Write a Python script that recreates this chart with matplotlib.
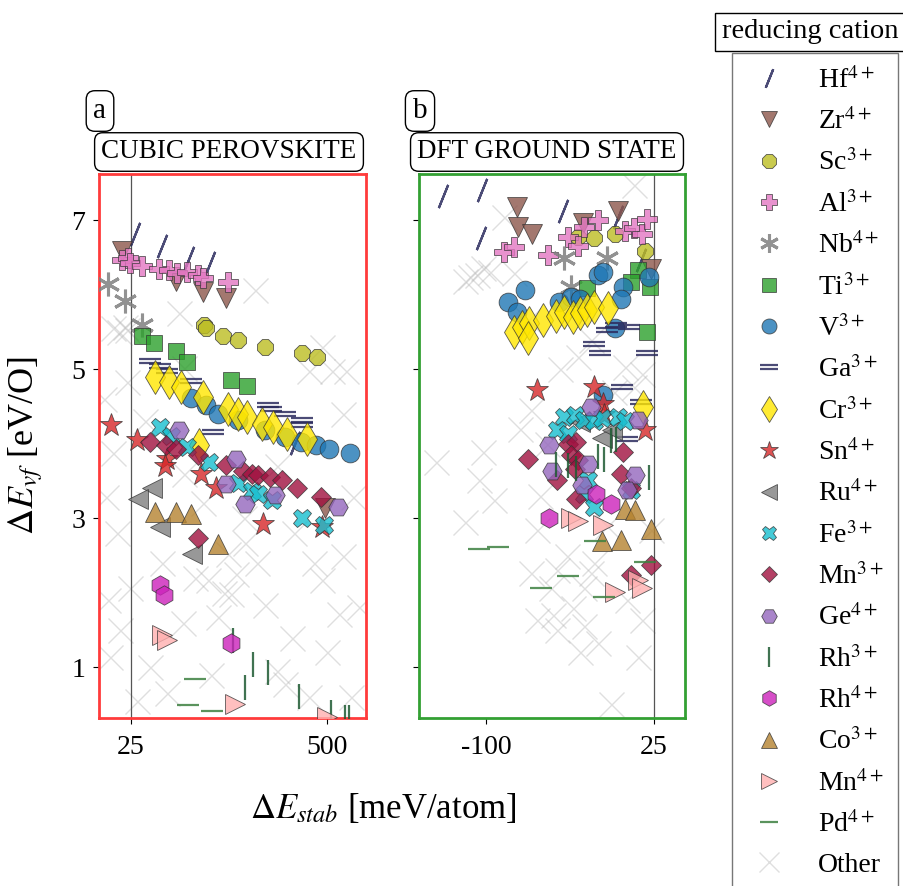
#!/usr/bin/env python3
"""Vacancy formation energy vs. stability, cubic perovskite vs. DFT ground state."""

import matplotlib

matplotlib.use("Agg")
import matplotlib.pyplot as plt
from matplotlib.lines import Line2D
from matplotlib.path import Path

plt.rcParams["font.family"] = ["Liberation Serif", "DejaVu Serif"]
plt.rcParams["mathtext.fontset"] = "stix"

# (dE_stab [meV/atom], dE_vf [eV/O])
# panel a = cubic perovskite, panel b = DFT ground state
HF_A = [(35, 6.82), (100, 6.66), (166, 6.49), (216, 6.43), (424, 4.01)]
HF_B = [(-132, 7.33), (-103, 7.40), (-104, 6.76), (-43, 7.13), (-2, 7.04), (15, 6.46)]
ZR_A = [(2, 6.59), (133, 6.19), (199, 6.04), (256, 5.95), (497, 3.14)]
ZR_B = [(-77, 7.18), (-76, 6.91), (-66, 6.82), (-28, 6.96), (-2, 7.13), (23, 6.35)]
SC_A = [(203, 5.59), (207, 5.55), (248, 5.45), (285, 5.39), (350, 5.30), (441, 5.22), (478, 5.17)]
SC_B = [(-32, 6.78), (-20, 6.76), (-4, 6.82), (18, 6.59)]
AL_A = [(2, 6.46), (18, 6.49), (22, 6.42), (51, 6.39), (92, 6.35), (117, 6.33),
        (137, 6.29), (162, 6.31), (187, 6.26), (199, 6.22), (260, 6.17)]
AL_B = [(-87, 6.57), (-79, 6.64), (-54, 6.53), (-39, 6.78), (-32, 6.66), (-27, 6.91),
        (-17, 7.00), (3, 6.86), (10, 6.89), (16, 6.82), (20, 7.02)]
NB_A = [(-31, 6.15), (10, 5.92), (51, 5.59)]
NB_B = [(-42, 6.49), (-10, 6.49), (-37, 6.11)]
TI_A = [(51, 5.44), (80, 5.35), (133, 5.25), (162, 5.10), (268, 4.85), (306, 4.78)]
TI_B = [(13, 6.33), (-25, 6.09), (8, 6.17), (22, 6.11), (20, 5.50)]
V_A = [(170, 4.61), (207, 4.52), (236, 4.40), (285, 4.32), (350, 4.18), (400, 4.09),
       (437, 4.03), (474, 3.98), (507, 3.93), (556, 3.87)]
V_B = [(-71, 6.06), (-84, 5.90), (-77, 5.77), (-46, 5.90), (-37, 5.97), (-30, 5.94),
       (-17, 6.26), (-13, 6.31), (2, 6.11), (0, 5.94), (21, 6.24), (-4, 5.55), (-13, 4.66)]
GA_A = [(70, 5.11), (96, 5.04), (113, 4.98), (170, 4.84), (359, 4.52), (365, 4.47),
        (400, 4.40), (441, 4.32), (441, 4.25), (224, 4.16)]
GA_B = [(-3, 5.59), (6, 5.57), (-10, 5.52), (-20, 5.34), (-15, 5.22), (20, 5.22),
        (1, 4.76), (15, 4.56), (5, 4.07)]
CR_A = [(84, 4.90), (117, 4.83), (146, 4.76), (199, 4.63), (260, 4.47), (285, 4.40),
        (306, 4.36), (342, 4.27), (371, 4.23), (404, 4.13), (453, 4.07), (190, 3.98)]
CR_B = [(-79, 5.50), (-73, 5.57), (-68, 5.62), (-69, 5.42), (-58, 5.66), (-48, 5.72),
        (-42, 5.77), (-35, 5.70), (-30, 5.75), (-25, 5.79), (-20, 5.84), (-9, 5.82), (17, 4.49)]
SN_A = [(-23, 4.25), (39, 4.05), (113, 3.80), (108, 3.70), (195, 3.60), (232, 3.41),
        (346, 2.93), (490, 2.88)]
SN_B = [(-62, 4.72), (-20, 4.76), (-13, 4.54), (-12, 4.38), (18, 4.18)]
RU_A = [(76, 3.41), (43, 3.26), (96, 2.88), (174, 2.52)]
RU_B = [(-14, 4.08), (-6, 4.18), (-30, 4.29)]
FE_A = [(96, 4.23), (121, 4.11), (162, 3.96), (215, 3.76), (285, 3.47), (318, 3.36),
        (334, 3.33), (367, 3.24), (441, 3.01), (494, 2.91)]
FE_B = [(-42, 4.36), (-34, 4.38), (-27, 4.32), (-20, 4.30), (-14, 4.34), (-2, 4.36),
        (3, 4.30), (-47, 4.18), (-39, 4.13), (-24, 3.51), (-27, 3.33), (-20, 3.15), (8, 3.38)]
MN3_A = [(72, 4.03), (109, 3.98), (133, 3.93), (187, 3.85), (256, 3.71), (297, 3.64),
         (318, 3.60), (334, 3.58), (363, 3.56), (392, 3.51), (429, 3.41), (486, 3.28), (187, 2.73)]
MN3_B = [(-69, 3.79), (-39, 4.00), (-33, 4.03), (-37, 3.85), (-32, 3.78), (-34, 3.66),
         (-47, 3.51), (2, 3.89), (0, 3.60), (-33, 3.26), (8, 2.24), (23, 2.37), (8, 3.41)]
GE_A = [(141, 4.18), (281, 3.80), (256, 3.46), (301, 3.19), (375, 3.31), (527, 3.15)]
GE_B = [(-22, 4.49), (13, 4.32), (-53, 3.98), (-51, 3.64), (-24, 3.73), (-29, 3.44),
        (11, 3.58), (5, 3.38)]
RH3_A = [(273, 1.37), (322, 1.05), (359, 0.94), (303, 0.73), (433, 0.62), (512, 0.40),
         (545, 0.33), (554, 0.33)]
RH3_B = [(-48, 3.73), (-39, 3.71), (-33, 3.68), (-17, 3.83), (-12, 3.80), (-7, 4.05),
         (-3, 4.07), (21, 3.56)]
RH4_A = [(96, 2.10), (104, 1.97), (268, 1.32)]
RH4_B = [(-53, 3.00), (-18, 3.33), (-7, 3.19)]
CO_A = [(84, 3.08), (133, 3.08), (170, 3.06), (236, 2.66)]
CO_B = [(3, 3.13), (11, 3.11), (23, 2.86), (-14, 2.69), (0, 2.71)]
MN4_A = [(100, 1.43), (113, 1.37), (277, 0.51), (502, 0.33)]
MN4_B = [(-37, 3.00), (-32, 2.96), (-13, 2.91), (-4, 2.01), (13, 2.17), (16, 2.06)]
PD_A = [(181, 0.85), (164, 0.50), (222, 0.42)]
PD_B = [(-105, 2.59), (-91, 2.62), (-39, 2.22), (-59, 2.06), (-19, 2.69), (-12, 1.94), (18, 2.42)]
OTHER_A = [(326, 6.06), (141, 5.75), (-20, 5.55), (-5, 5.50), (10, 5.57), (15, 5.52),
           (457, 4.97), (514, 4.97), (547, 4.97), (14, 4.83), (153, 5.02), (490, 5.30),
           (-19, 3.87), (-35, 3.28), (154, 3.60), (564, 3.28), (260, 2.52), (301, 2.67),
           (23, 2.07), (211, 2.17), (268, 1.99), (236, 1.67), (416, 1.40), (531, 1.72),
           (580, 1.81), (-2, 1.50), (-27, 1.14), (113, 0.65), (400, 0.78), (457, 0.60),
           (350, 1.84), (490, 2.17), (60, 4.3), (-40, 4.6), (180, 2.2), (330, 2.4),
           (420, 2.8), (470, 2.4), (540, 2.5), (100, 2.4), (-10, 2.8), (380, 0.95),
           (500, 1.2), (70, 1.0), (220, 0.9), (150, 1.6), (250, 2.0), (280, 2.25),
           (-30, 1.9), (560, 0.6), (40, 0.55), (300, 3.0), (200, 3.2), (380, 3.7), (540, 4.4)]
OTHER_B = [(-107, 6.27), (-102, 6.36), (-97, 6.30), (-112, 6.24), (10, 7.47), (-87, 7.04),
           (-116, 6.19), (-79, 6.29), (-69, 5.66), (-22, 5.39), (-32, 5.17), (16, 4.94),
           (10, 4.76), (3, 5.03), (-67, 4.45), (-137, 3.76), (-102, 3.89), (-105, 3.51),
           (-94, 3.24), (-116, 2.95), (-62, 2.84), (-67, 2.26), (-52, 2.07), (-27, 2.07),
           (-22, 2.26), (-62, 1.63), (-47, 1.50), (-27, 1.55), (-17, 1.32), (16, 1.63),
           (13, 1.14), (-7, 0.51), (-47, 2.30), (23, 2.84), (-60, 3.3), (-40, 2.5),
           (-35, 1.8), (-10, 2.9), (5, 1.9), (-55, 4.0), (-75, 4.2), (-45, 5.0), (-5, 4.7),
           (-50, 1.7), (-30, 1.2), (-20, 2.4)]

LABELS = ["Hf$^{4+}$", "Zr$^{4+}$", "Sc$^{3+}$", "Al$^{3+}$", "Nb$^{4+}$", "Ti$^{3+}$",
          "V$^{3+}$", "Ga$^{3+}$", "Cr$^{3+}$", "Sn$^{4+}$", "Ru$^{4+}$", "Fe$^{3+}$",
          "Mn$^{3+}$", "Ge$^{4+}$", "Rh$^{3+}$", "Rh$^{4+}$", "Co$^{3+}$", "Mn$^{4+}$",
          "Pd$^{4+}$"]
PANEL_A = [HF_A, ZR_A, SC_A, AL_A, NB_A, TI_A, V_A, GA_A, CR_A, SN_A, RU_A, FE_A,
           MN3_A, GE_A, RH3_A, RH4_A, CO_A, MN4_A, PD_A]
PANEL_B = [HF_B, ZR_B, SC_B, AL_B, NB_B, TI_B, V_B, GA_B, CR_B, SN_B, RU_B, FE_B,
           MN3_B, GE_B, RH3_B, RH4_B, CO_B, MN4_B, PD_B]

NAVY = "#2b2b5e"
GA_MARKER = Path([(-1, 0.22), (1, 0.22), (-1, -0.22), (1, -0.22)],
                 [Path.MOVETO, Path.LINETO, Path.MOVETO, Path.LINETO])

# (marker, colour, markersize, filled)
STYLES = [
    ((2, 2, -22), NAVY, 18, False),
    ("v", "#8c564b", 14, True),
    ("8", "#bcbd22", 13, True),
    ("P", "#e377c2", 14, True),
    ((6, 2, 0), "#7f7f7f", 17, False),
    ("s", "#2ca02c", 12, True),
    ("o", "#1f77b4", 13.5, True),
    (GA_MARKER, NAVY, 16, False),
    ("d", "#ffe600", 17, True),
    ("*", "#d62728", 17, True),
    ("<", "#7f7f7f", 14, True),
    ("X", "#17becf", 13, True),
    ("D", "#a0103f", 10.5, True),
    ("H", "#9467bd", 14, True),
    ("|", "#1e5a32", 18, False),
    ("h", "#cc22bb", 14, True),
    ("^", "#b5822f", 14, True),
    (">", "#ffb0b0", 14, True),
    ("_", "#3d8040", 16, False),
]

FIG_W, FIG_H = 904, 886


def fx(px):
    return px / FIG_W


def fy(py):
    return 1 - py / FIG_H


def plot_points(ax, pts, style, label=None):
    marker, color, size, filled = style
    xs = [p[0] for p in pts]
    ys = [p[1] for p in pts]
    if filled:
        return ax.plot(xs, ys, ls="none", marker=marker, ms=size, mfc=color,
                       mec="#333333", mew=0.6, alpha=0.8, label=label, zorder=3)[0]
    lw = 2.2 if marker == (6, 2, 0) else 1.6
    return ax.plot(xs, ys, ls="none", marker=marker, ms=size, color=color,
                   mec=color, mfc="none", mew=lw, alpha=0.85, label=label, zorder=3)[0]


def draw_panel(ax, panel, others, spine_color, xlim, xticks, show_ylabels):
    ax.plot([p[0] for p in others], [p[1] for p in others], ls="none", marker="x",
            ms=18, mew=1.0, color="#b8b8b8", alpha=0.45, zorder=1)
    ax.axvline(25, color="#555555", lw=0.9, zorder=2)
    handles = []
    for pts, style, label in zip(panel, STYLES, LABELS):
        handles.append(plot_points(ax, pts, style, label))
    ax.set_xlim(*xlim)
    ax.set_ylim(0.32, 7.62)
    ax.set_xticks(xticks)
    ax.set_xticklabels([str(t) for t in xticks])
    ax.set_yticks([1, 3, 5, 7])
    if not show_ylabels:
        ax.set_yticklabels([])
    for sp in ax.spines.values():
        sp.set_color(spine_color)
        sp.set_linewidth(2.0)
    ax.tick_params(axis="both", labelsize=20, length=4, width=0.8, direction="out")
    ax.tick_params(axis="x", pad=8)
    ax.tick_params(axis="y", pad=6)
    return handles


def main():
    fig = plt.figure(figsize=(FIG_W / 100, FIG_H / 100), dpi=100)
    ax_a = fig.add_axes([fx(99), fy(718), fx(366) - fx(99), fy(174) - fy(718)])
    ax_b = fig.add_axes([fx(419), fy(718), fx(685) - fx(419), fy(174) - fy(718)])

    handles = draw_panel(ax_a, PANEL_A, OTHER_A, "#ff3b3b", (-53, 596), [25, 500], True)
    draw_panel(ax_b, PANEL_B, OTHER_B, "#33a033", (-150, 48), [-100, 25], False)

    ax_a.set_ylabel(r"$\Delta E_{vf}$ [eV/O]", fontsize=26)
    ax_a.yaxis.set_label_coords(-(99 - 45) / 267, 0.5)
    fig.text(fx(383), fy(809), r"$\Delta E_{stab}$ [meV/atom]", fontsize=25,
             ha="center", va="center")

    box = dict(boxstyle="round,pad=0.25,rounding_size=0.3", fc="white", ec="black", lw=1)
    fig.text(fx(100), fy(111), "a", fontsize=21, ha="center", va="center", bbox=box)
    fig.text(fx(420), fy(111), "b", fontsize=21, ha="center", va="center", bbox=box)
    fig.text(fx(229), fy(152), "CUBIC PEROVSKITE", fontsize=19.5, ha="center",
             va="center", bbox=box)
    fig.text(fx(547), fy(152), "DFT GROUND STATE", fontsize=19.5, ha="center",
             va="center", bbox=box)

    other = Line2D([], [], ls="none", marker="x", ms=18, mew=1.0, color="#b8b8b8",
                   alpha=0.45, label="Other")
    leg = fig.legend(handles=handles + [other], loc="upper left",
                     bbox_to_anchor=(fx(732), fy(53)), bbox_transform=fig.transFigure,
                     borderaxespad=0, fontsize=20, markerscale=0.8, labelspacing=0.52,
                     handlelength=1.7, handletextpad=0.9, borderpad=0.5,
                     fancybox=False, edgecolor="#777777", framealpha=1)
    leg.get_frame().set_linewidth(1.0)
    fig.text(fx(810), fy(32), "reducing cation", fontsize=20.5, ha="center", va="center",
             bbox=dict(boxstyle="square,pad=0.22", fc="white", ec="black", lw=1))

    fig.savefig("out.png", dpi=100)
    plt.close(fig)


if __name__ == "__main__":
    main()
